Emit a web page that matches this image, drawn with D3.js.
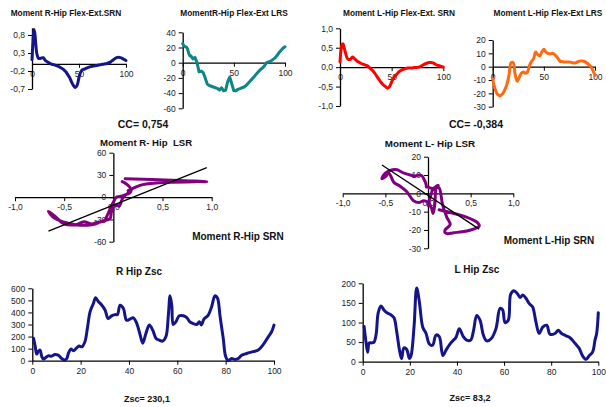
<!DOCTYPE html>
<html>
<head>
<meta charset="utf-8">
<script src="https://cdn.jsdelivr.net/npm/d3@7"></script>
<style>
  body { margin: 0; background: #fff; }
  svg { display: block; font-family: "Liberation Sans", Arial, sans-serif; }
  text { white-space: pre; }
</style>
</head>
<body>
<svg id="chart" width="606" height="407"></svg>
<script>
// Gait cycle (% of stride) shared by the four moment curves
const cycle = [0,1,2,3,4,5,6,7,8,10,12,14,16,18,20,22,24,26,28,30,32,34,36,38,40,42,44,46,48,
  50,52,54,56,58,60,62,64,66,68,70,72,74,76,78,80,82,84,86,88,90,92,94,96,98,100];

// Right hip flexion-extension moment, SRN (normalised)
const srnR = [0.12,0.6,0.95,0.85,0.55,0.3,0.2,0.15,0.15,
  0.16,0.17,0.1,0.06,0.03,0.0,-0.02,-0.03,-0.05,-0.07,
  -0.1,-0.13,-0.17,-0.22,-0.3,-0.38,-0.5,-0.6,-0.66,-0.6,
  -0.38,-0.22,-0.16,-0.15,-0.12,-0.1,-0.08,-0.07,-0.06,-0.05,
  -0.04,-0.03,-0.02,-0.01,0.0,0.01,0.03,0.06,0.1,0.14,
  0.17,0.18,0.17,0.15,0.12,0.09];

// Right hip flexion-extension moment, LRS
const lrsR = [25,23,21,21,20,17,12,9,9,
  5,7,0,-12,-11,-13,-20,-28,-30,-31,
  -32,-33,-34,-36,-33,-37,-36,-25,-19,-28,
  -37,-37,-35,-34,-33,-32,-30,-27,-24,-21,
  -18,-15,-12,-9,-7,-4,0,1,2,4,
  6,9,13,16,19,21];

// Left hip flexion-extension moment, SRN
const srnL = [0.13,0.45,0.58,0.6,0.5,0.4,0.3,0.23,0.2,
  0.2,0.26,0.22,0.17,0.13,0.1,0.08,0.06,0.04,0.0,
  -0.05,-0.1,-0.17,-0.25,-0.33,-0.4,-0.46,-0.5,-0.54,-0.5,
  -0.38,-0.28,-0.21,-0.15,-0.1,-0.07,-0.05,-0.03,-0.02,-0.02,
  -0.02,-0.01,-0.01,0.0,0.02,0.05,0.08,0.1,0.12,0.12,
  0.11,0.08,0.05,0.04,0.02,0.0];

// Left hip flexion-extension moment, LRS
const lrsL = [-9,-13,-16,-18,-20,-21,-21.5,-22,-21.5,
  -20,-17,-13,-6,3,3,-6,-11,-8,-5,
  -4,-5,-4,1,4,6,11,9,8,11,
  13,11,10,9.5,10,9.5,8,6,4,3.8,
  3.5,3.5,3.5,3.4,3,2.7,3.2,4,4.3,4.3,
  3.8,2.8,1.5,0,-3,-6.5];

// Z-score curves: [% of stride, Zsc]
const zscR = [[0.5,185],[1.2,120],[1.8,55],[2.5,78],[3.2,88],[3.9,35],[4.6,14],[5.3,22],[6.6,40],[8,38],
  [9.4,52],[10.8,45],[12.1,19],[13.3,5],[14.2,15],[15,65],[16,97],[17,82],[18.3,105],[19.4,122],
  [20.5,115],[21.8,160],[22.8,270],[23.9,405],[25.2,470],[26.2,522],[27.3,490],[28.7,462],[30.1,420],
  [31.4,350],[32.8,372],[34.2,382],[35.2,382],[36.3,460],[37.7,432],[39,335],[40.4,345],[41.8,355],
  [43.2,310],[44.6,215],[45.7,145],[47,225],[48.4,295],[49.8,255],[51.2,185],[52.6,170],[53.9,162],
  [55.3,200],[56.3,380],[57,538],[57.7,460],[58.3,300],[59.4,322],[60.8,372],[62.5,372],[63.9,356],
  [65.2,322],[66.6,308],[68,300],[69.1,322],[70,296],[71,345],[72.8,378],[74.2,448],[75.6,538],
  [76.6,520],[77.7,365],[79,185],[80,35],[81.1,0],[82.5,18],[83.9,10],[85.2,18],[86.6,45],[88.7,60],
  [91.4,75],[93.5,88],[95.6,135],[97.7,200],[99,240],[100,295]];

const zscL = [[0.6,90],[1.4,50],[2.1,24],[2.8,48],[3.8,48],[4.8,50],[5.7,70],[6.6,125],[7.8,142],[9,132],
  [10.5,124],[11.9,120],[13.3,112],[14.4,78],[15.6,30],[16.5,8],[17.5,35],[18.7,31],[19.8,8],[20.5,15],
  [21.8,90],[22.9,188],[24,155],[25.5,88],[26.9,72],[28.3,45],[29.7,42],[31.1,68],[32.5,64],[34,16],
  [35.4,30],[36.8,43],[38.2,53],[39.6,62],[41,84],[42.7,64],[44.1,55],[45.8,55],[47,78],[48.4,118],
  [49.8,106],[51.2,68],[52.6,53],[54.7,60],[56.6,85],[58.3,136],[59.4,132],[60.4,100],[61.8,106],
  [62.8,172],[64.2,181],[65.6,174],[66.8,164],[67.9,170],[69.3,162],[70.7,148],[72.1,140],[73.5,102],
  [74.9,72],[76.4,88],[78.1,93],[79.5,70],[81.6,72],[83,80],[84.4,72],[86.3,66],[88,61],[90.1,47],
  [91.9,34],[93.4,14],[94.8,6],[96.2,16],[97.6,25],[98.6,55],[99.3,72],[100,125]];

// Tick values
const pctTicks3 = [0, 50, 100];
const pctTicks6 = [0, 20, 40, 60, 80, 100];
const srnRTicks = [-0.7, -0.2, 0.3, 0.8];
const lrsRTicks = [-60, -40, -20, 0, 20, 40];
const srnLTicks = [-1, -0.5, 0, 0.5, 1];
const lrsLTicks = [-30, -20, -10, 0, 10, 20];
const corrXTicks = [-1, -0.5, 0, 0.5, 1];
const corrRYTicks = [-60, -30, 0, 30, 60];
const corrLYTicks = [-30, -20, -10, 0, 10, 20];
const zscRTicks = [0, 100, 200, 300, 400, 500, 600];
const zscLTicks = [0, 50, 100, 150, 200];

// Summary numbers
const ccR = 0.754, ccL = -0.384;
const zscRMean = 230.1, zscLMean = 83.2;

const loc = d3.formatLocale({decimal: ",", thousands: ".", grouping: [3], currency: ["", ""], minus: "-"});
const f1 = loc.format(".1f"), f0 = loc.format("d"), f3 = loc.format(".3f");

const svg = d3.select("#chart");
const C = {navy: "#15158a", teal: "#0e8686", red: "#ff0000", orange: "#ff6a10", purple: "#800080"};

function panel(o) {
  const x = d3.scaleLinear().domain(o.xd).range(o.xr);
  const y = d3.scaleLinear().domain(o.yd).range(o.yr);
  const g = svg.append("g");
  const xa = d3.axisBottom(x).tickValues(o.xt).tickFormat(o.xf)
    .tickSize(4).tickPadding(3).tickSizeOuter(0);
  const ya = d3.axisLeft(y).tickValues(o.yt).tickFormat(o.yf)
    .tickSize(4).tickPadding(3).tickSizeOuter(0);
  const gx = g.append("g").attr("transform", `translate(0,${y(o.xAt)})`).call(xa);
  const gy = g.append("g").attr("transform", `translate(${x(o.yAt)},0)`).call(ya);
  [gx, gy].forEach(a => {
    a.select(".domain").attr("stroke", "#000").attr("stroke-width", 1.3);
    a.selectAll(".tick line").attr("stroke", "#000").attr("stroke-width", 1);
    a.selectAll("text").attr("font-size", "8.5px").attr("fill", "#222")
      .attr("font-family", "Liberation Sans, Arial, sans-serif");
  });
  return {x, y, g};
}

function drawLine(p, pts, color, curve) {
  p.g.append("path")
    .datum(pts)
    .attr("fill", "none")
    .attr("stroke", color)
    .attr("stroke-width", 3)
    .attr("stroke-linejoin", "round")
    .attr("stroke-linecap", "round")
    .attr("d", d3.line().x(d => p.x(d[0])).y(d => p.y(d[1])).curve(curve || d3.curveCatmullRom.alpha(0.5)));
}

function label(txt, x, y, size, bold) {
  svg.append("text").attr("x", x).attr("y", y).attr("text-anchor", "middle")
    .attr("font-size", size + "px").attr("font-weight", bold ? "bold" : "normal")
    .attr("fill", "#111").text(txt);
}

function fit(xs, ys) {
  const mx = d3.mean(xs), my = d3.mean(ys);
  let sxy = 0, sxx = 0;
  xs.forEach((v, i) => { sxy += (v - mx) * (ys[i] - my); sxx += (v - mx) * (v - mx); });
  const b = sxy / sxx;
  return {b, a: my - b * mx};
}

// --- Top row: moment curves over the stride
const p1 = panel({xd: [0, 100], xr: [32, 126], yd: [-0.7, 1.0], yr: [89, 27.8],
  xt: pctTicks3, yt: srnRTicks, xf: f0, yf: f1, xAt: 0, yAt: 0});
drawLine(p1, cycle.map((c, i) => [c, srnR[i]]), C.navy);
label("Moment R-Hip Flex-Ext.SRN", 66, 16, 8.3, true);

const p2 = panel({xd: [0, 100], xr: [182.7, 285], yd: [-60, 40], yr: [108.3, 32.3],
  xt: pctTicks3, yt: lrsRTicks, xf: f0, yf: f0, xAt: 0, yAt: 0});
drawLine(p2, cycle.map((c, i) => [c, lrsR[i]]), C.teal, d3.curveLinear);
label("MomentR-Hip Flex-Ext LRS", 234, 16, 8.3, true);

const p3 = panel({xd: [0, 100], xr: [340, 443.3], yd: [-1, 1], yr: [106, 28.3],
  xt: pctTicks3, yt: srnLTicks, xf: f0, yf: f1, xAt: 0, yAt: 0});
drawLine(p3, cycle.map((c, i) => [c, srnL[i]]), C.red);
label("Moment L-Hip Flex-Ext. SRN", 399, 16, 8.3, true);

const p4 = panel({xd: [0, 100], xr: [492.7, 595], yd: [-30, 20], yr: [106.7, 40],
  xt: pctTicks3, yt: lrsLTicks, xf: f0, yf: f0, xAt: 0, yAt: 0});
drawLine(p4, cycle.map((c, i) => [c, lrsL[i]]), C.orange);
label("Moment L-Hip Flex-Ext LRS", 548, 16, 8.3, true);

label("CC= " + f3(ccR), 143, 128, 10.5, true);
label("CC= " + f3(ccL), 476, 128, 10.5, true);

// --- Middle row: LRS against SRN with least-squares line
function corrPanel(p, xs, ys) {
  drawLine(p, xs.map((v, i) => [v, ys[i]]), C.purple);
  const r = fit(xs, ys);
  const [lo, hi] = d3.extent(xs);
  p.g.append("line")
    .attr("x1", p.x(lo)).attr("y1", p.y(r.a + r.b * lo))
    .attr("x2", p.x(hi)).attr("y2", p.y(r.a + r.b * hi))
    .attr("stroke", "#000").attr("stroke-width", 1.3);
}

const s1 = panel({xd: [-1, 1], xr: [15, 211.7], yd: [-60, 60], yr: [241.7, 152.7],
  xt: corrXTicks, yt: corrRYTicks, xf: f1, yf: f0, xAt: 0, yAt: 0});
corrPanel(s1, srnR, lrsR);
label("Moment R- Hip  LSR", 146, 146, 9.6, true);
label("Moment R-Hip SRN", 238, 240, 10, true);

const s2 = panel({xd: [-1, 1], xr: [342.7, 513.3], yd: [-30, 20], yr: [248.3, 156.7],
  xt: corrXTicks, yt: corrLYTicks, xf: f1, yf: f0, xAt: 0, yAt: 0});
corrPanel(s2, srnL, lrsL);
label("Moment L- Hip LSR", 430, 147, 9.8, true);
label("Moment L-Hip SRN", 549, 244, 10, true);

// --- Bottom row: Z-scores
const z1 = panel({xd: [0, 100], xr: [32.3, 274], yd: [0, 600], yr: [360.7, 288.3],
  xt: pctTicks6, yt: zscRTicks, xf: f0, yf: f0, xAt: 0, yAt: 0});
drawLine(z1, zscR, C.navy);
label("R Hip Zsc", 139, 275, 10, true);
label("Zsc= " + f1(zscRMean), 147, 402, 9, true);

const z2 = panel({xd: [0, 100], xr: [362.7, 598.3], yd: [0, 200], yr: [361.7, 283.3],
  xt: pctTicks6, yt: zscLTicks, xf: f0, yf: f0, xAt: 0, yAt: 0});
drawLine(z2, zscL, C.navy);
label("L Hip Zsc", 477, 273, 10, true);
label("Zsc= " + f1(zscLMean), 470, 401, 9, true);
</script>
</body>
</html>
